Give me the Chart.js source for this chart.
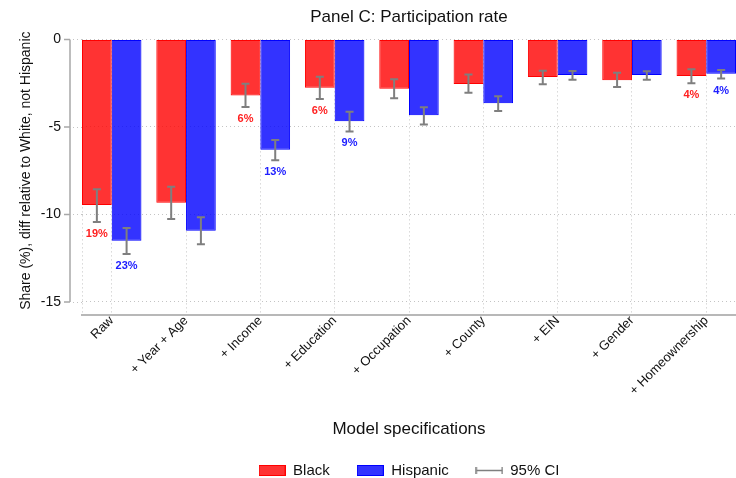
<!DOCTYPE html>
<html>
<head>
<meta charset="utf-8">
<script src="https://cdn.jsdelivr.net/npm/chart.js@4.4.0/dist/chart.umd.min.js"></script>
<style>
    html, body { margin: 0; padding: 0; background: #fff; overflow: hidden; }
</style>
</head>
<body>
<canvas id="myChart" width="736" height="478"></canvas>
<script>
const categories = ['Raw', '+ Year + Age', '+ Income', '+ Education', '+ Occupation',
    '+ County', '+ EIN', '+ Gender', '+ Homeownership'];

const black = [-9.47, -9.34, -3.20, -2.76, -2.82, -2.55, -2.15, -2.34, -2.09];
const blackLow = [-10.44, -10.26, -3.86, -3.40, -3.36, -3.05, -2.57, -2.72, -2.51];
const blackHigh = [-8.56, -8.42, -2.53, -2.13, -2.28, -2.01, -1.79, -1.90, -1.71];
const blackShare = ['19%', '', '6%', '6%', '', '', '', '', '4%'];

const hispanic = [-11.51, -10.93, -6.31, -4.68, -4.34, -3.65, -2.04, -2.04, -1.96];
const hispanicLow = [-12.26, -11.70, -6.90, -5.26, -4.86, -4.09, -2.30, -2.30, -2.24];
const hispanicHigh = [-10.78, -10.17, -5.75, -4.14, -3.88, -3.25, -1.81, -1.82, -1.75];
const hispanicShare = ['23%', '', '13%', '9%', '', '', '', '', '4%'];

const yTicks = [-15, -10, -5, 0];

const FONT = "'Liberation Sans', Arial, Helvetica, sans-serif";
const GRID = '#c4c4c4';
const AXIS = '#a8a8a8';
const CI = '#7f7f7f';

function makeSwatch(fill, stroke) {
    const c = document.createElement('canvas');
    c.width = 27;
    c.height = 11;
    const g = c.getContext('2d');
    g.fillStyle = fill;
    g.fillRect(0, 0, 27, 11);
    g.strokeStyle = stroke;
    g.lineWidth = 1;
    g.strokeRect(0.5, 0.5, 26, 10);
    return c;
}

function makeCiSymbol() {
    const c = document.createElement('canvas');
    c.width = 28;
    c.height = 9;
    const g = c.getContext('2d');
    g.strokeStyle = CI;
    g.lineWidth = 1.5;
    g.beginPath();
    g.moveTo(1, 4.5); g.lineTo(27, 4.5);
    g.moveTo(1, 1); g.lineTo(1, 8);
    g.moveTo(27, 1); g.lineTo(27, 8);
    g.stroke();
    return c;
}

// error bars, share labels, stata-like y axis bracket and y title
const stataExtras = {
    id: 'stataExtras',
    beforeDatasetsDraw(chart) {
        const {ctx, chartArea, scales: {y}} = chart;
        ctx.save();
        ctx.strokeStyle = GRID;
        ctx.lineWidth = 1;
        ctx.setLineDash([1, 3]);
        ctx.beginPath();
        ctx.moveTo(chartArea.left + 0.5, chartArea.top);
        ctx.lineTo(chartArea.left + 0.5, chartArea.bottom);
        yTicks.forEach(v => {
            const py = Math.round(y.getPixelForValue(v)) + 0.5;
            ctx.moveTo(73, py);
            ctx.lineTo(chartArea.left, py);
        });
        ctx.stroke();
        ctx.restore();
    },
    afterDatasetsDraw(chart) {
        const {ctx, scales: {y}} = chart;
        ctx.save();
        chart.data.datasets.forEach((ds, d) => {
            const meta = chart.getDatasetMeta(d);
            meta.data.forEach((bar, i) => {
                const x = bar.x;
                const yLo = y.getPixelForValue(ds.ciLow[i]);
                const yHi = y.getPixelForValue(ds.ciHigh[i]);
                ctx.strokeStyle = CI;
                ctx.lineWidth = 2;
                ctx.beginPath();
                ctx.moveTo(x, yHi); ctx.lineTo(x, yLo);
                ctx.moveTo(x - 4, yHi); ctx.lineTo(x + 4, yHi);
                ctx.moveTo(x - 4, yLo); ctx.lineTo(x + 4, yLo);
                ctx.stroke();
                if (ds.shares[i]) {
                    ctx.fillStyle = ds.shareColor;
                    ctx.font = 'bold 11px ' + FONT;
                    ctx.textAlign = 'center';
                    ctx.textBaseline = 'middle';
                    ctx.fillText(ds.shares[i], x, yLo + 12);
                }
            });
        });
        ctx.restore();
    },
    afterDraw(chart) {
        const {ctx, scales: {y}} = chart;
        const top = y.getPixelForValue(0);
        const bottom = y.getPixelForValue(-15);
        ctx.save();
        ctx.strokeStyle = AXIS;
        ctx.lineWidth = 1.5;
        ctx.beginPath();
        ctx.moveTo(70, top);
        ctx.lineTo(70, bottom);
        yTicks.forEach(v => {
            const py = y.getPixelForValue(v);
            ctx.moveTo(64, py);
            ctx.lineTo(70, py);
        });
        ctx.stroke();
        ctx.translate(26, (top + bottom) / 2);
        ctx.rotate(-Math.PI / 2);
        ctx.fillStyle = '#111';
        ctx.font = '14px ' + FONT;
        ctx.textAlign = 'center';
        ctx.textBaseline = 'middle';
        ctx.fillText('Share (%), diff relative to White, not Hispanic', 0, 0);
        ctx.restore();
    }
};

const ctx = document.getElementById('myChart').getContext('2d');
new Chart(ctx, {
    type: 'bar',
    data: {
        datasets: [
            {
                label: 'Black',
                data: black.map((v, i) => ({x: i, y: v})),
                backgroundColor: 'rgba(255, 0, 0, 0.8)',
                borderColor: '#ff0000',
                borderWidth: 1,
                borderSkipped: false,
                ciLow: blackLow,
                ciHigh: blackHigh,
                shares: blackShare,
                shareColor: '#ff2020',
            },
            {
                label: 'Hispanic',
                data: hispanic.map((v, i) => ({x: i, y: v})),
                backgroundColor: 'rgba(0, 0, 255, 0.8)',
                borderColor: '#0000ff',
                borderWidth: 1,
                borderSkipped: false,
                ciLow: hispanicLow,
                ciHigh: hispanicHigh,
                shares: hispanicShare,
                shareColor: '#2020ff',
            },
        ],
    },
    options: {
        responsive: false,
        animation: false,
        devicePixelRatio: 1,
        layout: { padding: { left: 0, right: 0, top: 0, bottom: -10 } },
        datasets: { bar: { barPercentage: 1, categoryPercentage: 0.8 } },
        scales: {
            x: {
                type: 'linear',
                min: -0.4,
                max: 8.4,
                offset: false,
                afterBuildTicks: (s) => { s.ticks = categories.map((c, i) => ({value: i})); },
                afterFit: (s) => { s.height = 121; },
                grid: { offset: false, drawTicks: false, color: GRID, lineWidth: 1 },
                border: { display: true, color: '#b8b8b8', width: 2, dash: [1, 3] },
                ticks: {
                    autoSkip: false,
                    minRotation: 45,
                    maxRotation: 45,
                    padding: -2,
                    color: '#111',
                    font: { family: FONT, size: 13 },
                    callback: (v) => categories[v],
                },
                title: {
                    display: true,
                    text: 'Model specifications',
                    color: '#111',
                    font: { family: FONT, size: 17 },
                    padding: { top: 0, bottom: -4 },
                },
            },
            y: {
                min: -15.75,
                max: 0,
                afterBuildTicks: (s) => { s.ticks = yTicks.map(v => ({value: v})); },
                afterFit: (s) => { s.width = 82; },
                grid: { color: GRID, lineWidth: 1, drawTicks: false },
                border: { display: false, dash: [1, 3] },
                ticks: {
                    padding: 21,
                    color: '#111',
                    font: { family: FONT, size: 14 },
                    callback: (v) => String(v),
                },
            },
        },
        plugins: {
            title: {
                display: true,
                text: 'Panel C: Participation rate',
                fullSize: false,
                color: '#111',
                font: { family: FONT, size: 17, weight: 'normal' },
                padding: { top: 7, bottom: 12 },
            },
            legend: {
                position: 'bottom',
                fullSize: false,
                labels: {
                    usePointStyle: true,
                    pointStyleWidth: 27,
                    boxHeight: 11,
                    padding: 27,
                    color: '#111',
                    font: { family: FONT, size: 15 },
                    generateLabels: () => [
                        { text: 'Black', pointStyle: makeSwatch('rgba(255,0,0,0.8)', '#ff0000'), fontColor: '#111', hidden: false, datasetIndex: 0 },
                        { text: 'Hispanic', pointStyle: makeSwatch('rgba(0,0,255,0.8)', '#0000ff'), fontColor: '#111', hidden: false, datasetIndex: 1 },
                        { text: '95% CI', pointStyle: makeCiSymbol(), fontColor: '#111', hidden: false },
                    ],
                },
            },
            tooltip: { enabled: false },
        },
    },
    plugins: [stataExtras],
});
</script>
</body>
</html>
